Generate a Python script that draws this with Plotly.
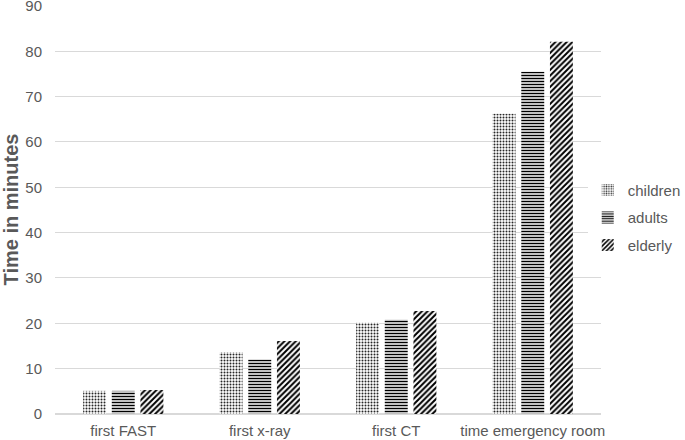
import plotly.graph_objects as go

categories = ["first FAST", "first x-ray", "first CT", "time emergency room"]
children = [5.1, 13.6, 20.1, 66.2]
adults = [5.1, 12.0, 20.8, 75.5]
elderly = [5.3, 16.1, 22.7, 82.1]
y_ticks = [0, 10, 20, 30, 40, 50, 60, 70, 80, 90]

font = "Liberation Sans, Arial, sans-serif"
fig = go.Figure()
series = [("children", children, ".", 3, 0.35, 0.85),
          ("adults", adults, "-", 3, 0.5, 1.0),
          ("elderly", elderly, "/", 4, 0.5, 1.0)]
for name, vals, shape, size, sol, op in series:
    fig.add_trace(go.Bar(
        name=name, x=categories, y=vals, legendgroup=name,
        marker=dict(color="white", line=dict(width=0),
                    pattern=dict(shape=shape, fgcolor="#000000", bgcolor="white",
                                 size=size, solidity=sol, fillmode="overlay",
                                 fgopacity=op)),
    ))

fig.update_layout(
    width=685, height=440,
    margin=dict(l=55, r=84, t=5, b=26, autoexpand=False),
    paper_bgcolor="white", plot_bgcolor="white",
    barmode="group", bargap=0.37, bargroupgap=0.2,
    font=dict(family=font, size=15, color="#595959"),
    legend=dict(xref="container", yref="container", x=0.858, y=0.505,
                yanchor="middle", xanchor="left",
                font=dict(size=15, color="#595959"), itemwidth=30,
                tracegroupgap=5),
    showlegend=True,
)
fig.update_yaxes(range=[0, 90.2], tickvals=y_ticks, showgrid=True, gridcolor="#d9d9d9",
                 gridwidth=1, zeroline=True, zerolinecolor="#d9d9d9", showline=False,
                 ticks="", ticklabelstandoff=12, automargin=False, ticklabeloverflow="allow",
                 tickfont=dict(size=15, color="#595959"),
                 title=dict(text="<b>Time in minutes</b>", font=dict(size=20, color="#595959"),
                            standoff=8))
fig.update_xaxes(showline=False, ticks="", automargin=False, ticklabelstandoff=6,
                 ticklabeloverflow="allow",
                 tickfont=dict(size=15, color="#595959"))

fig.write_html("out.html", config={"displayModeBar": False},
               post_script="document.body.style.margin='0';")
